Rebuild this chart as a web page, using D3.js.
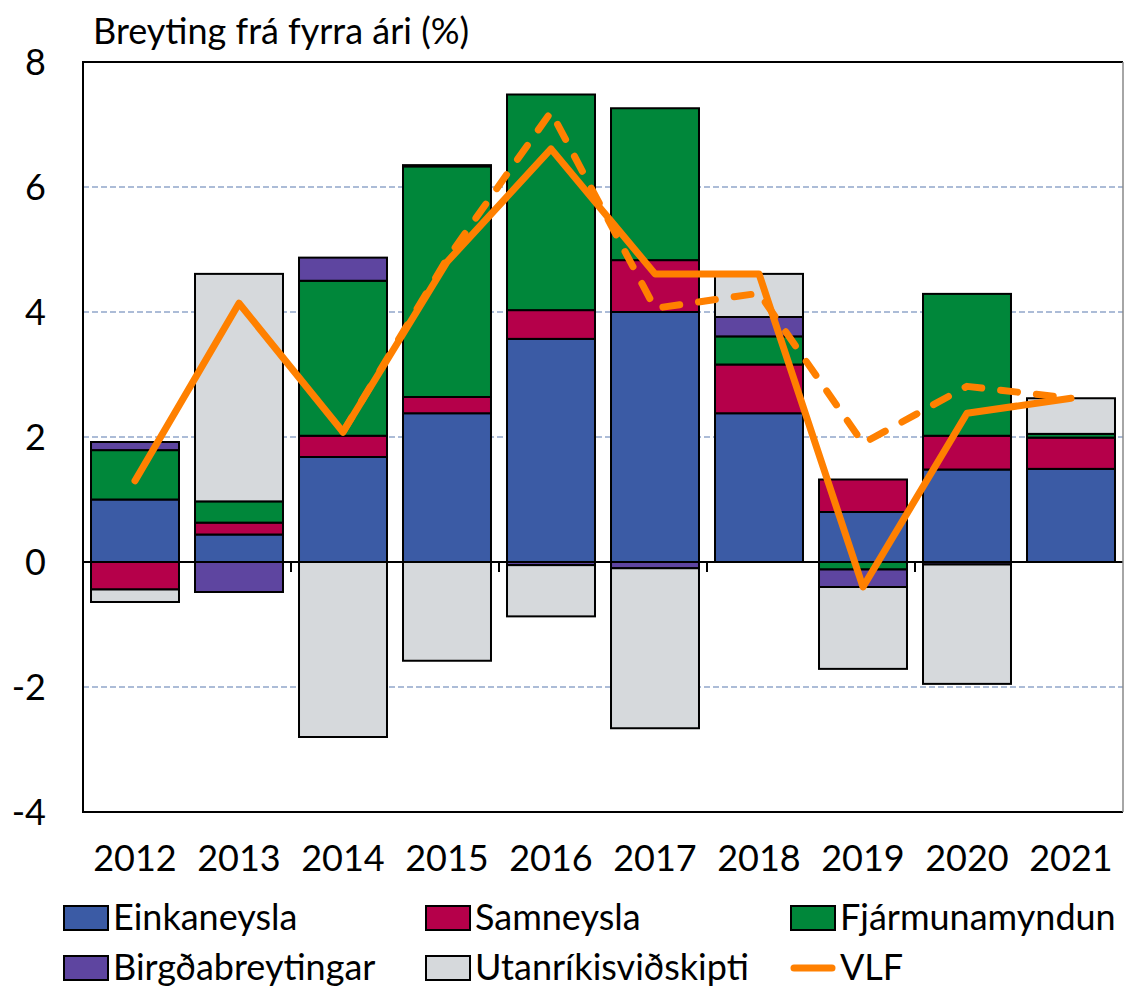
<!DOCTYPE html>
<html>
<head>
<meta charset="utf-8">
<script src="https://cdn.jsdelivr.net/npm/d3@7"></script>
<style>
  body { margin: 0; background: #fff; }
  svg { display: block; font-family: Lato, "Open Sans", sans-serif; }
</style>
</head>
<body>
<div id="chart"></div>
<script>
// Gögn lesin af myndinni
const years = ["2012", "2013", "2014", "2015", "2016", "2017", "2018", "2019", "2020", "2021"];
const einkaneysla      = [1.00, 0.44, 1.68, 2.38, 3.57, 4.00, 2.38, 0.80, 1.48, 1.49];
const samneysla        = [-0.44, 0.19, 0.34, 0.26, 0.46, 0.83, 0.78, 0.52, 0.54, 0.50];
const fjarmunamyndun   = [0.79, 0.34, 2.48, 3.69, 3.45, 2.43, 0.45, -0.12, 2.27, 0.06];
const birgdabreytingar = [0.13, -0.48, 0.37, 0.02, -0.05, -0.10, 0.31, -0.28, -0.04, 0.00];
const utanrikis        = [-0.20, 3.64, -2.80, -1.58, -0.82, -2.56, 0.69, -1.31, -1.91, 0.57];
const vlf              = [1.30, 4.14, 2.08, 4.80, 6.61, 4.61, 4.61, -0.40, 2.38, 2.62];
const vlfFyrri         = [null, null, 2.08, 4.85, 7.20, 4.06, 4.30, 1.90, 2.81, 2.62];
const yTicks = [-4, -2, 0, 2, 4, 6, 8];

const seriesNames = ["Einkaneysla", "Samneysla", "Fjármunamyndun", "Birgðabreytingar", "Utanríkisviðskipti"];
const seriesValues = [einkaneysla, samneysla, fjarmunamyndun, birgdabreytingar, utanrikis];
const colors = ["#3b5ba5", "#b5004a", "#00873a", "#5e45a0", "#d6d9dc"];
const orange = "#ff8000";

function drawChart() {
    d3.select("#chart").selectAll("*").remove();

    const W = 1124, H = 991;
    const margin = { top: 62, right: 1, bottom: 179, left: 83 };

    const svg = d3.select("#chart").append("svg")
        .attr("width", W)
        .attr("height", H);

    // Tafla fyrir stöflun
    const table = years.map((y, i) => {
        const row = { year: y };
        seriesNames.forEach((s, k) => row[s] = seriesValues[k][i]);
        return row;
    });
    const stacked = d3.stack()
        .keys(seriesNames)
        .offset(d3.stackOffsetDiverging)(table);

    // Kvarðar
    const x = d3.scaleBand()
        .domain(years)
        .range([margin.left, W - margin.right])
        .paddingInner(0.154)
        .paddingOuter(0.077);

    const y = d3.scaleLinear()
        .domain([-4, 8])
        .range([H - margin.bottom, margin.top]);

    // Hnitalínur
    svg.append("g")
        .selectAll("line")
        .data(yTicks.filter(d => d !== 0 && d !== 8 && d !== -4))
        .enter().append("line")
        .attr("x1", margin.left)
        .attr("x2", W - margin.right)
        .attr("y1", d => y(d))
        .attr("y2", d => y(d))
        .attr("stroke", "#5b7bb0")
        .attr("stroke-width", 1.2)
        .attr("stroke-dasharray", "6,3");

    // Súlur
    svg.append("g")
        .selectAll("g")
        .data(stacked)
        .enter().append("g")
        .attr("fill", (d, i) => colors[i])
        .selectAll("rect")
        .data(d => d.filter(p => Math.abs(p[1] - p[0]) > 0.001))
        .enter().append("rect")
        .attr("x", d => x(d.data.year))
        .attr("y", d => y(Math.max(d[0], d[1])))
        .attr("width", x.bandwidth())
        .attr("height", d => Math.abs(y(d[0]) - y(d[1])))
        .attr("stroke", "#000")
        .attr("stroke-width", 2);

    // Núll-lína og merki
    svg.append("line")
        .attr("x1", margin.left)
        .attr("x2", W - margin.right)
        .attr("y1", y(0))
        .attr("y2", y(0))
        .attr("stroke", "#000")
        .attr("stroke-width", 2);

    const step = x.step();
    svg.append("g")
        .selectAll("line")
        .data([2, 4, 6, 8])
        .enter().append("line")
        .attr("x1", d => margin.left + d * step)
        .attr("x2", d => margin.left + d * step)
        .attr("y1", y(0))
        .attr("y2", y(0) + 10)
        .attr("stroke", "#000")
        .attr("stroke-width", 2);

    // Línur
    const line = d3.line()
        .defined(d => d.v !== null)
        .x(d => x(d.year) + x.bandwidth() / 2)
        .y(d => y(d.v));

    svg.append("path")
        .datum(years.map((yr, i) => ({ year: yr, v: vlfFyrri[i] })))
        .attr("d", line)
        .attr("fill", "none")
        .attr("stroke", orange)
        .attr("stroke-width", 7)
        .attr("stroke-linecap", "round")
        .attr("stroke-linejoin", "round")
        .attr("stroke-dasharray", "17,19");

    svg.append("path")
        .datum(years.map((yr, i) => ({ year: yr, v: vlf[i] })))
        .attr("d", line)
        .attr("fill", "none")
        .attr("stroke", orange)
        .attr("stroke-width", 7)
        .attr("stroke-linecap", "round")
        .attr("stroke-linejoin", "round");

    // Rammi
    const x0 = margin.left, x1 = W - margin.right, yT = y(8), yB = y(-4);
    svg.append("path")
        .attr("d", `M${x1},${yT} L${x0},${yT} L${x0},${yB} L${x1},${yB}`)
        .attr("fill", "none")
        .attr("stroke", "#000")
        .attr("stroke-width", 2);
    svg.append("line")
        .attr("x1", x1).attr("x2", x1)
        .attr("y1", yT).attr("y2", yB)
        .attr("stroke", "#888")
        .attr("stroke-width", 1.5);

    // Ástextar
    svg.append("g")
        .selectAll("text")
        .data(yTicks)
        .enter().append("text")
        .attr("x", 46)
        .attr("y", d => y(d))
        .attr("dy", "0.36em")
        .attr("text-anchor", "end")
        .style("font-size", "36px")
        .text(d => d);

    svg.append("g")
        .selectAll("text")
        .data(years)
        .enter().append("text")
        .attr("x", d => x(d) + x.bandwidth() / 2)
        .attr("y", 871)
        .attr("text-anchor", "middle")
        .style("font-size", "36px")
        .text(d => d);

    // Titill
    svg.append("text")
        .attr("x", 93)
        .attr("y", 44)
        .style("font-size", "36px")
        .text("Breyting frá fyrra ári (%)");

    // Skýringar
    const legendItems = [
        { name: "Einkaneysla", col: 0, row: 0, type: "rect", color: colors[0] },
        { name: "Samneysla", col: 1, row: 0, type: "rect", color: colors[1] },
        { name: "Fjármunamyndun", col: 2, row: 0, type: "rect", color: colors[2] },
        { name: "Birgðabreytingar", col: 0, row: 1, type: "rect", color: colors[3] },
        { name: "Utanríkisviðskipti", col: 1, row: 1, type: "rect", color: colors[4] },
        { name: "VLF", col: 2, row: 1, type: "line", color: orange }
    ];
    const colX = [63, 425, 790];
    const rowY = [930, 980];

    const leg = svg.append("g")
        .selectAll("g")
        .data(legendItems)
        .enter().append("g")
        .attr("transform", d => `translate(${colX[d.col]},${rowY[d.row]})`);

    leg.filter(d => d.type === "rect").append("rect")
        .attr("x", 1)
        .attr("y", -24)
        .attr("width", 44)
        .attr("height", 24)
        .attr("fill", d => d.color)
        .attr("stroke", "#000")
        .attr("stroke-width", 2);

    leg.filter(d => d.type === "line").append("line")
        .attr("x1", 4)
        .attr("x2", 42)
        .attr("y1", -12)
        .attr("y2", -12)
        .attr("stroke", d => d.color)
        .attr("stroke-width", 7)
        .attr("stroke-linecap", "round");

    leg.append("text")
        .attr("x", 50)
        .attr("y", 0)
        .style("font-size", "36px")
        .text(d => d.name);
}

drawChart();
</script>
</body>
</html>
